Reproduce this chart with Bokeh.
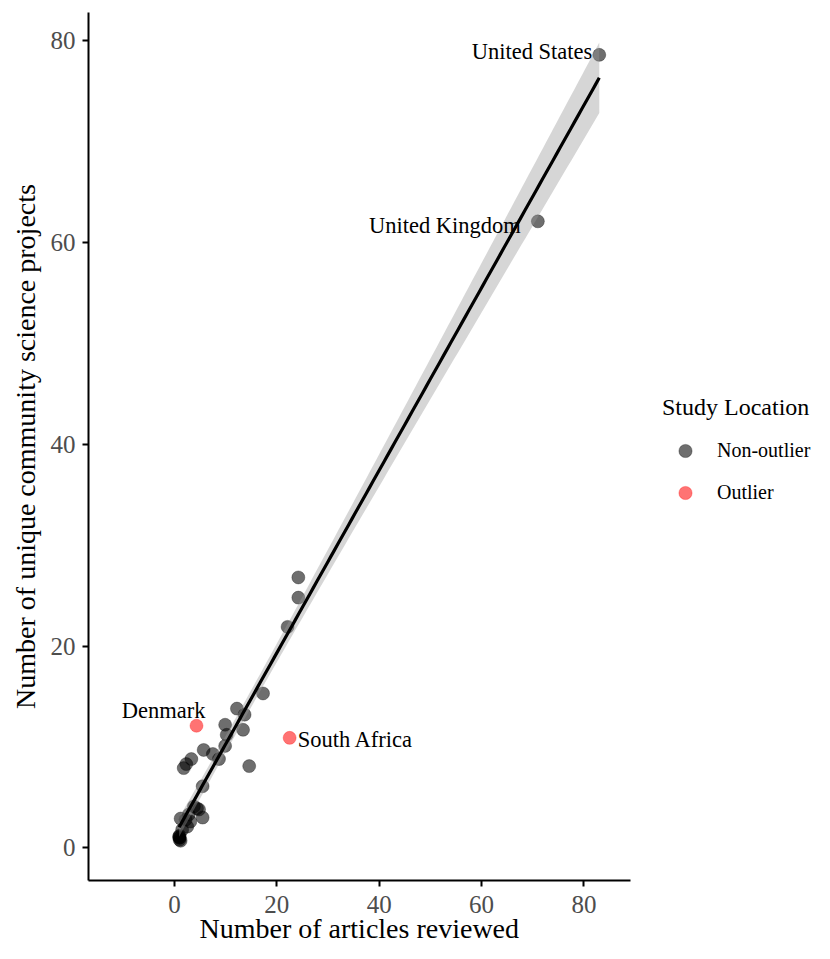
import numpy as np
from bokeh.plotting import figure
from bokeh.models import Range1d, Legend, LegendItem, FixedTicker, Title
from bokeh.embed import file_html
from bokeh.resources import INLINE
from bokeh.core.properties import value

# ---------------- data ----------------
countries = ["United States", "United Kingdom"] + [""] * 34
articles = [83, 71, 24.2, 24.2, 22.1, 17.3, 12.2, 13.7, 9.9, 13.4, 10.2, 9.9,
            5.7, 7.5, 8.7, 14.6, 3.3, 2.3, 1.8, 5.5, 3.8, 4.4, 4.8, 5.5,
            1.2, 2.2, 3.1, 2.8, 2.5, 1.5, 1.0, 1.0, 1.0, 1.0, 1.2, 0.9]
projects = [78.6, 62.1, 26.8, 24.8, 21.9, 15.3, 13.8, 13.2, 12.2, 11.7, 11.2, 10.1,
            9.7, 9.3, 8.8, 8.1, 8.8, 8.3, 7.9, 6.1, 4.1, 3.9, 3.8, 3.0,
            2.9, 2.8, 2.6, 3.3, 2.1, 1.8, 1.0, 1.0, 0.8, 1.2, 0.7, 1.1]

outlier_countries = ["Denmark", "South Africa"]
outlier_articles = [4.3, 22.5]
outlier_projects = [12.1, 10.9]

x_ticks = [0, 20, 40, 60, 80]
y_ticks = [0, 20, 40, 60, 80]

legend_title = "Study Location"
group_labels = ["Non-outlier", "Outlier"]
x_title = "Number of articles reviewed"
y_title = "Number of unique community science projects"

# ---------------- linear fit with 95% CI ----------------
x = np.array(articles, dtype=float)
y = np.array(projects, dtype=float)
n = len(x)
b1, b0 = np.polyfit(x, y, 1)
xs = np.linspace(x.min(), x.max(), 120)
yhat = b0 + b1 * xs
resid = y - (b0 + b1 * x)
s = np.sqrt(np.sum(resid ** 2) / (n - 2))
se = s * np.sqrt(1.0 / n + (xs - x.mean()) ** 2 / np.sum((x - x.mean()) ** 2))
t_crit = 2.03
lower = yhat - t_crit * se
upper = yhat + t_crit * se

FONT = "Liberation Serif"

# layout: the visible x axis spans x_lo..x_axis_hi over 542 px; the frame
# continues to the right (726 px) to host the legend.
W, H = 814, 943
LEFT, TOP, BOTTOM = 88, 12, 63
x_lo, x_axis_hi = -16.8, 89.1
frame_w = W - LEFT
x_hi = x_lo + (x_axis_hi - x_lo) * frame_w / 542.0

p = figure(width=W, height=H, output_backend="svg", toolbar_location=None,
           x_range=Range1d(x_lo, x_hi), y_range=Range1d(-3.24, 82.8),
           min_border_left=LEFT, min_border_right=0, min_border_top=TOP,
           min_border_bottom=BOTTOM)
p.outline_line_color = None
p.xgrid.visible = False
p.ygrid.visible = False
p.background_fill_color = "white"

for ax in (p.xaxis[0], p.yaxis[0]):
    ax.axis_line_color = "black"
    ax.axis_line_width = 2
    ax.major_tick_line_color = "black"
    ax.major_tick_line_width = 2
    ax.major_tick_out = 6
    ax.major_tick_in = 0
    ax.minor_tick_line_color = None
    ax.major_label_text_font = FONT
    ax.major_label_text_font_size = "25px"
    ax.major_label_text_color = "#4D4D4D"
    ax.axis_label_text_font = FONT
    ax.axis_label_text_font_size = "28px"
    ax.axis_label_text_font_style = "normal"
    ax.axis_label_text_color = "black"

p.xaxis[0].bounds = (x_lo, x_axis_hi)
p.xaxis[0].ticker = FixedTicker(ticks=x_ticks)
p.yaxis[0].ticker = FixedTicker(ticks=y_ticks)
p.yaxis[0].axis_label = y_title
p.xaxis[0].major_label_standoff = 9
p.yaxis[0].major_label_standoff = 7
p.yaxis[0].axis_label_standoff = 7

# x-axis title centred under the visible axis (not the whole frame)
p.add_layout(Title(text=x_title, text_font=FONT, text_font_size="28px",
                   text_font_style="normal", text_color="black",
                   align="left", offset=111, vertical_align="top",
                   standoff=-6), "below")

# points
r_non = p.scatter(articles, projects, size=13, fill_color="black", fill_alpha=0.57,
                  line_color="black", line_alpha=0.3, line_width=1)
r_out = p.scatter(outlier_articles, outlier_projects, size=13, fill_color="#FF0000",
                  fill_alpha=0.55, line_color="#FF0000", line_alpha=0.3, line_width=1)

# confidence band and regression line
p.varea(x=xs, y1=lower, y2=upper, fill_color="#999999", fill_alpha=0.4)
p.line(xs, yhat, line_color="black", line_width=3.2)

# labels
lab = {c: (a, b) for c, a, b in zip(countries, articles, projects) if c}
lab.update({c: (a, b) for c, a, b in zip(outlier_countries, outlier_articles, outlier_projects)})

def put(name, align, dx, dy):
    px, py = lab[name]
    p.text(x=[px], y=[py], text=[name], text_font=value(FONT), text_font_size="22.5px",
           text_align=align, text_baseline="middle", x_offset=dx, y_offset=dy,
           text_color="black")

put("United States", "right", -7, -3)
put("United Kingdom", "right", -17, 4)
put("Denmark", "right", 9, -15)
put("South Africa", "left", 8, 2)

legend = Legend(items=[LegendItem(label=group_labels[0], renderers=[r_non]),
                       LegendItem(label=group_labels[1], renderers=[r_out])],
                location=(574, 371), title=legend_title,
                title_text_font=FONT, title_text_font_size="24px",
                title_text_font_style="normal", title_text_color="black",
                title_standoff=13,
                label_text_font=FONT, label_text_font_size="20px",
                label_text_color="black",
                glyph_width=46, glyph_height=33, label_standoff=9, spacing=9,
                padding=0, margin=0, border_line_color=None,
                background_fill_alpha=0)
p.add_layout(legend)

open("out.html", "w").write(file_html(p, INLINE))
